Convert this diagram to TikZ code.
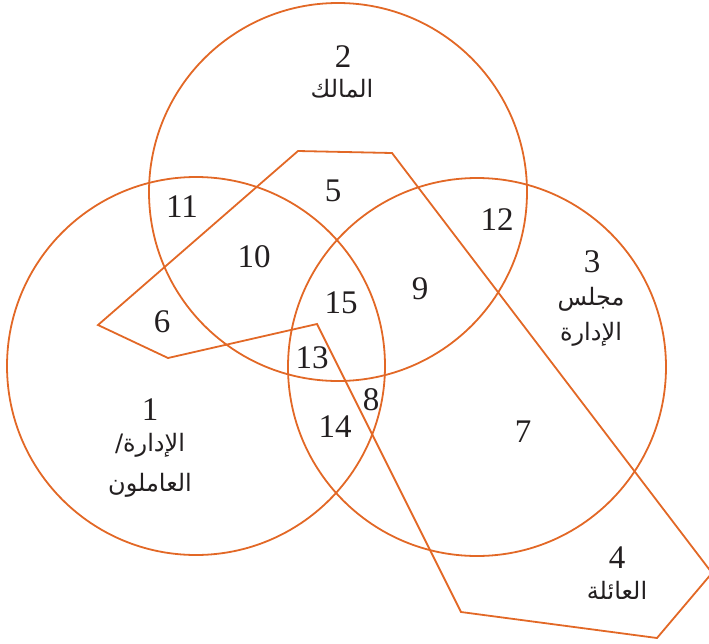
\documentclass[tikz,border=0pt]{standalone}
\usepackage{fontspec}
\setmainfont{Liberation Serif}
\newfontfamily\arabicfont[Script=Arabic]{DejaVu Sans}
\TeXXeTstate=1
\definecolor{vennorange}{RGB}{226,104,38}
\definecolor{inkgray}{RGB}{35,31,32}

\begin{document}
\begin{tikzpicture}[x=1pt,y=-1pt,
		ring/.style={draw=vennorange, line width=1.8pt},
		num/.style={inner sep=0pt, text=inkgray, font=\fontsize{33}{36}\selectfont},
		word/.style={inner sep=0pt, text=inkgray, font=\arabicfont\fontsize{24}{28}\selectfont}]
	\useasboundingbox (0,0) rectangle (709,643);
	
	% Circles
	\draw[ring] (196,366) circle[radius=189pt];
	\draw[ring] (338,192) circle[radius=189pt];
	\draw[ring] (477,367) circle[radius=189pt];
	
	% Family
	\draw[ring, line join=miter] (298,151) -- (392,153) -- (712,573) -- (657,638) -- (461,612)
		-- (317,324) -- (168,358) -- (98,325) -- cycle;
	
	% Management / workers
	\node[num] (n1) at (150,410) {1};
	\node[word] (n1a) at (150,445) {\beginR الإدارة/\endR};
	\node[word] (n1b) at (150,485) {\beginR العاملون\endR};
	
	% Owner
	\node[num] (n2) at (343,57) {2};
	\node[word] (n2a) at (342,89) {\beginR المالك\endR};
	
	% Board
	\node[num] (n3) at (592,262) {3};
	\node[word] (n3a) at (591,299) {\beginR مجلس\endR};
	\node[word] (n3b) at (591,334) {\beginR الإدارة\endR};
	
	% Family
	\node[num] (n4) at (617,558) {4};
	\node[word] (n4a) at (617,590) {\beginR العائلة\endR};
	
	% Overlaps
	\node[num] (n5) at (333,191) {5};
	\node[num] (n6) at (162,322) {6};
	\node[num] (n7) at (523,432) {7};
	\node[num] (n8) at (371,400) {8};
	\node[num] (n9) at (420,289) {9};
	\node[num] (n10) at (254,257) {10};
	\node[num] (n11) at (182,207) {11};
	\node[num] (n12) at (497,220) {12};
	\node[num] (n13) at (312,358) {13};
	\node[num] (n14) at (335,427) {14};
	\node[num] (n15) at (341,303) {15};
\end{tikzpicture}
\end{document}
